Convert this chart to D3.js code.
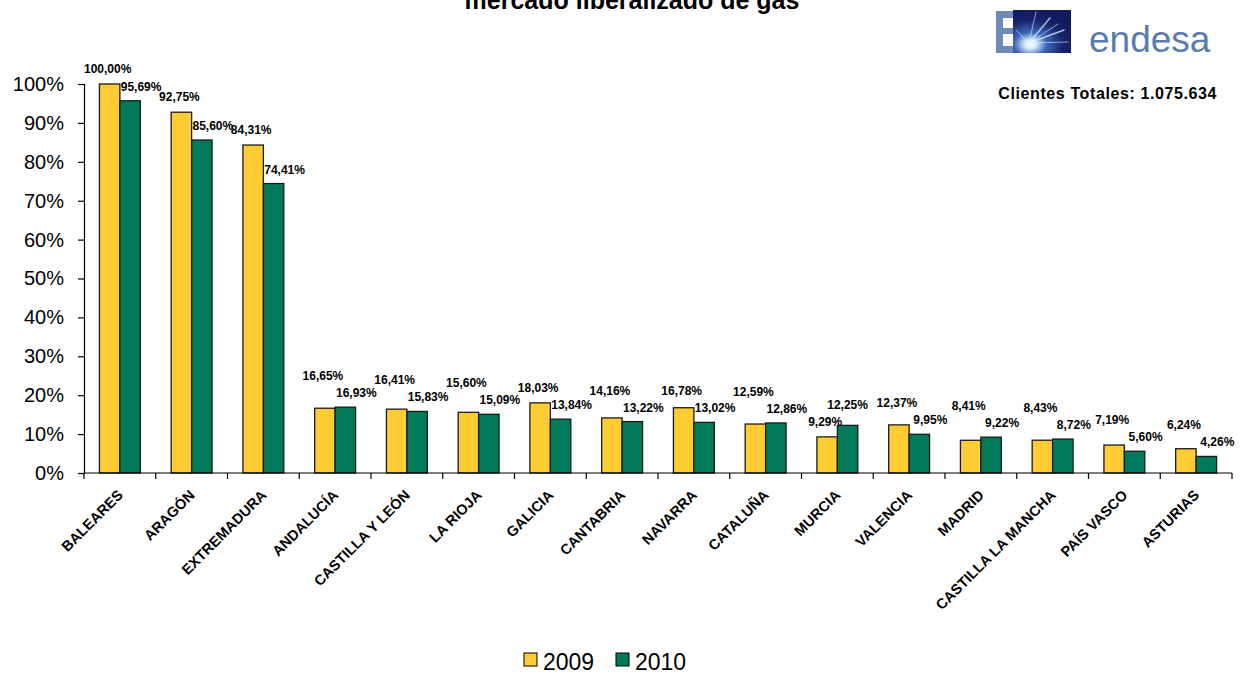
<!DOCTYPE html>
<html><head><meta charset="utf-8">
<script src="https://cdn.jsdelivr.net/npm/d3@7"></script>
<style>body{margin:0;background:#fff;font-family:Arial,"Liberation Sans",sans-serif;}</style>
</head><body>
<svg id="c" width="1241" height="674"></svg>
<script>
const categories = ["BALEARES","ARAGÓN","EXTREMADURA","ANDALUCÍA","CASTILLA Y LEÓN","LA RIOJA","GALICIA","CANTABRIA","NAVARRA","CATALUÑA","MURCIA","VALENCIA","MADRID","CASTILLA LA MANCHA","PAÍS VASCO","ASTURIAS"];
const values2009 = [100.00,92.75,84.31,16.65,16.41,15.60,18.03,14.16,16.78,12.59,9.29,12.37,8.41,8.43,7.19,6.24];
const values2010 = [95.69,85.60,74.41,16.93,15.83,15.09,13.84,13.22,13.02,12.86,12.25,9.95,9.22,8.72,5.60,4.26];
const seriesNames = ["2009","2010"];
const yTicks = [0,10,20,30,40,50,60,70,80,90,100];
const titleText = "mercado liberalizado de gas";
const totalText = "Clientes Totales: 1.075.634";

const colors = ["#FFCC33","#007A58"];
const svg = d3.select("#c");
const pLeft = 84, pRight = 1232, pTop = 84, pBottom = 473;

const x = d3.scaleBand().domain(categories).range([pLeft,pRight]).paddingInner(0.43).paddingOuter(0.215);
const xb = d3.scaleBand().domain(categories).range([pLeft,pRight]);
const xs = d3.scaleBand().domain(seriesNames).range([0,x.bandwidth()]);
const y = d3.scaleLinear().domain([0,100]).range([pBottom,pTop]);
const fmt = v => v.toFixed(2).replace(".",",") + "%";

// title (partly above the visible area, as in the reference)
svg.append("text").attr("x",632).attr("y",9).attr("text-anchor","middle")
  .attr("font-weight","bold").attr("font-size",25).attr("fill","#000").text(titleText);

// logo
const defs = svg.append("defs");
const rg = defs.append("radialGradient").attr("id","burst").attr("cx","0.3").attr("cy","0.8").attr("r","0.8");
rg.append("stop").attr("offset","0").attr("stop-color","#ffffff");
rg.append("stop").attr("offset","0.12").attr("stop-color","#d8ecff");
rg.append("stop").attr("offset","0.35").attr("stop-color","#3d66b8");
rg.append("stop").attr("offset","0.7").attr("stop-color","#16236e");
rg.append("stop").attr("offset","1").attr("stop-color","#111b5e");
const logo = svg.append("g");
const ec = "#6f8bb8";
logo.append("rect").attr("x",996).attr("y",11).attr("width",7).attr("height",42).attr("fill",ec);
[[11,7],[28,6],[46,7]].forEach(([yy,h]) => logo.append("rect").attr("x",996).attr("y",yy).attr("width",18).attr("height",h).attr("fill",ec));
logo.append("rect").attr("x",1013).attr("y",10).attr("width",58).attr("height",43).attr("fill","url(#burst)");
const rays = logo.append("g").attr("stroke","#e4f1ff").attr("stroke-linecap","round");
[[1050,18],[1064,30],[1068,42],[1036,12],[1058,24],[1016,30]].forEach(([tx,ty],i)=>{
  rays.append("line").attr("x1",1029).attr("y1",43).attr("x2",tx).attr("y2",ty)
    .attr("stroke-width",i<2?1.4:0.8).attr("stroke-opacity",0.75);
});
logo.append("text").attr("x",1089).attr("y",52).attr("font-size",37).attr("fill","#5b7bb0").text("endesa");
svg.append("text").attr("x",1217).attr("y",99).attr("text-anchor","end").attr("font-weight","bold")
  .attr("font-size",16).attr("letter-spacing",0.6).attr("fill","#000").text(totalText);

// y axis
const yAxis = d3.axisLeft(y).tickValues(yTicks).tickFormat(d => d + "%").tickSize(6).tickPadding(14);
const ga = svg.append("g").attr("transform",`translate(${pLeft},0)`).call(yAxis);
ga.select(".domain").attr("stroke","#000").attr("stroke-width",1.2);
ga.selectAll(".tick line").attr("stroke","#000").attr("stroke-width",1.2);
ga.selectAll(".tick text").attr("font-size",20).attr("font-family","Arial,'Liberation Sans',sans-serif").attr("fill","#000");

// bars
const data = categories.map((c,i)=>({c, v:[values2009[i],values2010[i]]}));
const groups = svg.append("g").selectAll("g").data(data).join("g").attr("transform",d=>`translate(${x(d.c)},0)`);
groups.selectAll("rect").data(d=>d.v.map((v,k)=>({v,k}))).join("rect")
  .attr("x",d=>xs(seriesNames[d.k])).attr("width",xs.bandwidth())
  .attr("y",d=>y(d.v)).attr("height",d=>pBottom-y(d.v))
  .attr("fill",d=>colors[d.k]).attr("stroke","#1a1a1a").attr("stroke-width",1.3);

// x axis
const gx = svg.append("g").attr("transform",`translate(0,${pBottom})`);
gx.append("line").attr("x1",pLeft).attr("x2",pRight).attr("stroke","#000").attr("stroke-width",1.2);
const bounds = categories.map(c=>xb(c)).concat([pRight]);
gx.selectAll("line.t").data(bounds).join("line").attr("class","t")
  .attr("x1",d=>d).attr("x2",d=>d).attr("y1",0).attr("y2",6).attr("stroke","#000").attr("stroke-width",1.2);
gx.selectAll("text").data(categories).join("text")
  .attr("transform",c=>`translate(${xb(c)+xb.bandwidth()/2+4},${23}) rotate(-45)`)
  .attr("text-anchor","end").attr("font-weight","bold").attr("font-size",14.5).attr("fill","#000").text(c=>c);

// data labels with simple collision dodge (2009 label goes on top unless its bar is clearly lower)
const labels = [];
data.forEach(d=>{
  const b0 = x(d.c)+xs("2009"), b1 = x(d.c)+xs("2010"), w = xs.bandwidth();
  let l0 = {x:b0+w/2-2, y:y(d.v[0])-11, t:fmt(d.v[0])};
  let l1 = {x:b1+w/2+11, y:y(d.v[1])-10, t:fmt(d.v[1])};
  const gap = 17;
  if (Math.abs(l0.y-l1.y) < gap) {
    if (d.v[1] - d.v[0] > 2) { l1.y = l0.y - gap; l1.x = b1 + w/2; }
    else l0.y = Math.min(l0.y, l1.y - gap);
  }
  labels.push(l0,l1);
});
svg.append("g").selectAll("text").data(labels).join("text")
  .attr("x",d=>d.x).attr("y",d=>d.y).attr("text-anchor","middle")
  .attr("font-weight","bold").attr("font-size",12).attr("fill","#000").text(d=>d.t);

// legend
const lg = svg.append("g");
const legendItems = [{n:seriesNames[0],c:colors[0],x:524},{n:seriesNames[1],c:colors[1],x:616}];
legendItems.forEach(it=>{
  lg.append("rect").attr("x",it.x).attr("y",653).attr("width",13).attr("height",13).attr("fill",it.c).attr("stroke","#000").attr("stroke-width",1);
  lg.append("text").attr("x",it.x+19).attr("y",670).attr("font-size",23).attr("fill","#000").text(it.n);
});
</script>
</body></html>
